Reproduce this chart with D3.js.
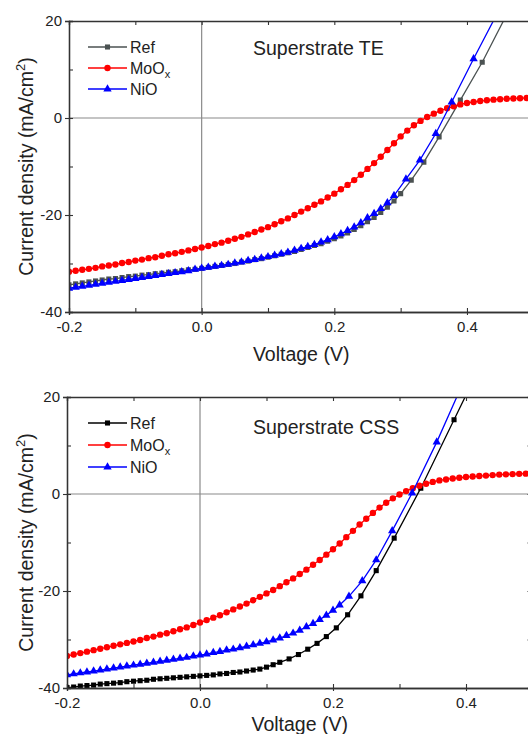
<!DOCTYPE html>
<html>
<head>
<meta charset="utf-8">
<script src="https://cdn.jsdelivr.net/npm/d3@7"></script>
<style>
  body { margin: 0; background: #fff; }
  svg { display: block; font-family: "Liberation Sans", Arial, sans-serif; }
</style>
</head>
<body>
<div id="chart"></div>
<script>

// voltage grid (V), -0.2 ... 0.5
var vGrid = [-0.2, -0.19, -0.18, -0.17, -0.16, -0.15, -0.14, -0.13, -0.12, -0.11,
  -0.1, -0.09, -0.08, -0.07, -0.06, -0.05, -0.04, -0.03, -0.02, -0.01,
  0, 0.01, 0.02, 0.03, 0.04, 0.05, 0.06, 0.07, 0.08, 0.09,
  0.1, 0.11, 0.12, 0.13, 0.14, 0.15, 0.16, 0.17, 0.18, 0.19,
  0.2, 0.21, 0.22, 0.23, 0.24, 0.25, 0.26, 0.27, 0.28, 0.29,
  0.3, 0.31, 0.32, 0.33, 0.34, 0.35, 0.36, 0.37, 0.38, 0.39,
  0.4, 0.41, 0.42, 0.43, 0.44, 0.45, 0.46, 0.47, 0.48, 0.49, 0.5];

// ---- Superstrate TE ----
var teRefV = vGrid.slice(0, 51).concat([0.316, 0.335, 0.358, 0.39, 0.423, 0.456]);
var teRefJ = [-34.4, -34.2, -34.0, -33.8, -33.6, -33.4, -33.2, -33.1, -32.9, -32.7,
  -32.6, -32.4, -32.3, -32.1, -32.0, -31.8, -31.7, -31.5, -31.3, -31.2,
  -31.0, -30.8, -30.6, -30.4, -30.2, -30.0, -29.7, -29.5, -29.2, -29.0,
  -28.7, -28.4, -28.1, -27.8, -27.5, -27.1, -26.7, -26.3, -25.9, -25.4,
  -24.9, -24.3, -23.7, -23.0, -22.2, -21.4, -20.5, -19.5, -18.4, -17.1,
  -15.6, -12.8, -9.1, -3.9, 3.7, 11.5, 20.3];

var teMoOxV = vGrid;
var teMoOxJ = [-31.7, -31.5, -31.3, -31.1, -30.9, -30.6, -30.4, -30.2, -29.9, -29.7,
  -29.4, -29.2, -28.9, -28.7, -28.4, -28.1, -27.9, -27.6, -27.3, -27.0,
  -26.7, -26.4, -26.0, -25.7, -25.3, -24.9, -24.5, -24.0, -23.5, -23.0,
  -22.5, -21.9, -21.3, -20.7, -20.0, -19.3, -18.6, -17.9, -17.2, -16.4,
  -15.6, -14.7, -13.8, -12.8, -11.7, -10.5, -9.3, -8.0, -6.6, -5.2,
  -3.8, -2.6, -1.5, -0.6, 0.2, 0.9, 1.5, 2.0, 2.4, 2.8,
  3.1, 3.3, 3.5, 3.65, 3.78, 3.88, 3.96, 4.03, 4.08, 4.12, 4.15];

var teNiOV = vGrid.slice(0, 50).concat([0.308, 0.329, 0.353, 0.377, 0.41, 0.445]);
var teNiOJ = [-35.1, -34.9, -34.7, -34.5, -34.3, -34.1, -33.9, -33.7, -33.5, -33.3,
  -33.1, -32.9, -32.7, -32.5, -32.3, -32.1, -31.9, -31.7, -31.5, -31.2,
  -31.0, -30.8, -30.6, -30.4, -30.2, -29.9, -29.7, -29.4, -29.2, -28.9,
  -28.6, -28.3, -28.0, -27.7, -27.3, -26.9, -26.5, -26.1, -25.6, -25.1,
  -24.5, -23.9, -23.2, -22.5, -21.6, -20.6, -19.7, -18.7, -17.5, -16.0,
  -12.6, -8.7, -3.2, 3.3, 12.2, 21.4];

// ---- Superstrate CSS ----
var cssRefV = vGrid.slice(0, 33).concat([0.134, 0.148, 0.162, 0.176, 0.19, 0.205, 0.222,
  0.242, 0.265, 0.292, 0.332, 0.382, 0.41]);
var cssRefJ = [-39.9, -39.8, -39.6, -39.5, -39.4, -39.2, -39.1, -39.0, -38.9, -38.7,
  -38.6, -38.5, -38.4, -38.2, -38.1, -38.0, -37.9, -37.8, -37.7, -37.6,
  -37.5, -37.4, -37.3, -37.1, -37.0, -36.8, -36.7, -36.5, -36.3, -36.1,
  -35.7, -35.2, -34.7,
  -34.0, -33.1, -32.0, -30.8, -29.4, -27.6, -24.9, -21.0, -15.8, -9.1, 1.2, 15.3, 23.2];

var cssMoOxV = vGrid;
var cssMoOxJ = [-33.4, -33.1, -32.8, -32.5, -32.2, -31.9, -31.6, -31.3, -31.0, -30.7,
  -30.4, -30.1, -29.7, -29.4, -29.0, -28.7, -28.3, -27.9, -27.5, -27.0,
  -26.5, -26.0, -25.5, -25.0, -24.4, -23.8, -23.2, -22.6, -21.9, -21.2,
  -20.5, -19.8, -19.0, -18.2, -17.4, -16.5, -15.6, -14.6, -13.6, -12.5,
  -11.4, -10.2, -8.9, -7.6, -6.3, -5.1, -3.9, -2.8, -1.8, -0.9,
  -0.1, 0.6, 1.2, 1.7, 2.1, 2.5, 2.8, 3.0, 3.2, 3.35,
  3.5, 3.6, 3.7, 3.8, 3.9, 4.0, 4.05, 4.1, 4.15, 4.2, 4.25];

var cssNiOV = vGrid.slice(0, 42).concat([0.224, 0.244, 0.265, 0.289, 0.319, 0.356, 0.39]);
var cssNiOJ = [-37.3, -37.1, -36.9, -36.7, -36.5, -36.3, -36.1, -35.9, -35.7, -35.5,
  -35.3, -35.1, -34.9, -34.7, -34.5, -34.3, -34.1, -33.9, -33.7, -33.4,
  -33.2, -33.0, -32.7, -32.5, -32.2, -32.0, -31.7, -31.4, -31.1, -30.8,
  -30.5, -30.1, -29.7, -29.2, -28.7, -28.1, -27.4, -26.7, -25.9, -25.0,
  -24.0, -22.9,
  -21.1, -17.9, -13.6, -7.6, 0.2, 10.7, 21.2];

// axis ticks
var xMajor = [-0.2, 0.0, 0.2, 0.4];
var xMinor = [-0.1, 0.1, 0.3];
var yMajor = [-40, -20, 0, 20];
var yMinor = [-30, -10, 10];

var seriesNames = ["Ref", "MoOx", "NiO"];

var svg = d3.select("#chart")
  .append("svg")
  .attr("width", 528)
  .attr("height", 734);

svg.append("rect").attr("width", 528).attr("height", 734).attr("fill", "#fff");

function pairs(vs, js) {
  return vs.map(function(v, i) { return [v, js[i]]; });
}

var panels = [
  { id: "te", left: 69, right: 533.3, top: 21, bottom: 312, title: "Superstrate TE",
    titleY: 55, legendY: [47, 68, 89], xLabelY: 361, refColor: "#4b5252",
    data: [pairs(teRefV, teRefJ), pairs(teMoOxV, teMoOxJ), pairs(teNiOV, teNiOJ)] },
  { id: "css", left: 67, right: 532.5, top: 397, bottom: 688, title: "Superstrate CSS",
    titleY: 434, legendY: [423, 445, 467], xLabelY: 731, refColor: "#000000",
    data: [pairs(cssRefV, cssRefJ), pairs(cssMoOxV, cssMoOxJ), pairs(cssNiOV, cssNiOJ)] }
];

function drawPanel(p) {
  var x = d3.scaleLinear().domain([-0.2, 0.5]).range([p.left, p.right]);
  var y = d3.scaleLinear().domain([-40, 20]).range([p.bottom, p.top]);
  var colors = [p.refColor, "#ff0000", "#0000ff"];
  var symbols = [d3.symbolSquare, d3.symbolCircle, d3.symbolTriangle];
  var sizes = [26, 32, 30];

  var g = svg.append("g");

  // clip for the curves
  svg.append("clipPath").attr("id", "clip_" + p.id)
    .append("rect")
    .attr("x", p.left).attr("y", p.top)
    .attr("width", p.right - p.left).attr("height", p.bottom - p.top);

  // zero lines
  g.append("line")
    .attr("x1", x(0)).attr("x2", x(0)).attr("y1", p.top).attr("y2", p.bottom)
    .attr("stroke", "#8a8a8a").attr("stroke-width", 1.2);
  g.append("line")
    .attr("x1", p.left).attr("x2", p.right).attr("y1", y(0)).attr("y2", y(0))
    .attr("stroke", "#8a8a8a").attr("stroke-width", 1.2);

  // curves
  var line = d3.line().x(function(d) { return x(d[0]); }).y(function(d) { return y(d[1]); });
  var curves = g.append("g").attr("clip-path", "url(#clip_" + p.id + ")");
  p.data.forEach(function(series, i) {
    curves.append("path")
      .datum(series)
      .attr("d", line)
      .attr("fill", "none")
      .attr("stroke", colors[i])
      .attr("stroke-width", 1.3);
    curves.selectAll(".m" + i)
      .data(series)
      .enter()
      .append("path")
      .attr("class", "m" + i)
      .attr("transform", function(d) { return "translate(" + x(d[0]) + "," + y(d[1]) + ")"; })
      .attr("d", d3.symbol().type(symbols[i]).size(sizes[i]))
      .attr("fill", colors[i]);
  });

  // axes
  function style(ax) {
    ax.selectAll("path.domain").attr("stroke", "#333").attr("stroke-width", 1.3);
    ax.selectAll(".tick line").attr("stroke", "#333").attr("stroke-width", 1.1);
    ax.selectAll("text").attr("font-size", 15).attr("fill", "#222")
      .attr("font-family", "Liberation Sans, Arial, sans-serif");
  }

  var xb = g.append("g").attr("transform", "translate(0," + p.bottom + ")")
    .call(d3.axisBottom(x).tickValues(xMajor).tickSize(3).tickPadding(6)
      .tickFormat(d3.format(".1f")));
  xb.selectAll("text").text(function(d) { return d3.format(".1f")(d).replace("−", "-"); });
  style(xb);
  style(g.append("g").attr("transform", "translate(0," + p.bottom + ")")
    .call(d3.axisBottom(x).tickValues(xMajor.concat(xMinor)).tickSize(-4).tickFormat("")));

  var yl = g.append("g").attr("transform", "translate(" + p.left + ",0)")
    .call(d3.axisLeft(y).tickValues(yMajor).tickSize(4).tickPadding(3));
  yl.selectAll("text").text(function(d) { return String(d); });
  style(yl);
  style(g.append("g").attr("transform", "translate(" + p.left + ",0)")
    .call(d3.axisLeft(y).tickValues(yMajor.concat(yMinor)).tickSize(-4).tickFormat("")));

  style(g.append("g").attr("transform", "translate(0," + p.top + ")")
    .call(d3.axisTop(x).tickValues(xMajor.concat(xMinor)).tickSize(-4).tickFormat("")));
  style(g.append("g").attr("transform", "translate(" + p.right + ",0)")
    .call(d3.axisRight(y).tickValues(yMajor.concat(yMinor)).tickSize(-5).tickFormat("")));

  // axis labels
  g.append("text")
    .attr("x", (p.left + p.right) / 2)
    .attr("y", p.xLabelY)
    .attr("text-anchor", "middle")
    .attr("font-size", 19.5)
    .attr("fill", "#222")
    .text("Voltage (V)");

  var yt = g.append("text")
    .attr("transform", "translate(33," + (p.top + p.bottom) / 2 + ")rotate(-90)")
    .attr("text-anchor", "middle")
    .attr("font-size", 19.5)
    .attr("fill", "#222");
  yt.append("tspan").text("Current density (mA/cm");
  yt.append("tspan").attr("font-size", 13).attr("dy", -8).text("2");
  yt.append("tspan").attr("dy", 8).text(")");

  // title
  g.append("text")
    .attr("x", 253)
    .attr("y", p.titleY)
    .attr("font-size", 19.5)
    .attr("fill", "#222")
    .text(p.title);

  // legend
  seriesNames.forEach(function(name, i) {
    var ly = p.legendY[i];
    g.append("line")
      .attr("x1", 88).attr("x2", 127).attr("y1", ly).attr("y2", ly)
      .attr("stroke", colors[i]).attr("stroke-width", 1.3);
    g.append("path")
      .attr("transform", "translate(107.5," + ly + ")")
      .attr("d", d3.symbol().type(symbols[i]).size(sizes[i]))
      .attr("fill", colors[i]);
    var t = g.append("text")
      .attr("x", 130)
      .attr("y", ly + 6)
      .attr("font-size", 16)
      .attr("fill", "#222");
    if (name == "MoOx") {
      t.append("tspan").text("MoO");
      t.append("tspan").attr("font-size", 11).attr("dy", 4).text("x");
    } else {
      t.text(name);
    }
  });
}

panels.forEach(drawPanel);

</script>
</body>
</html>
